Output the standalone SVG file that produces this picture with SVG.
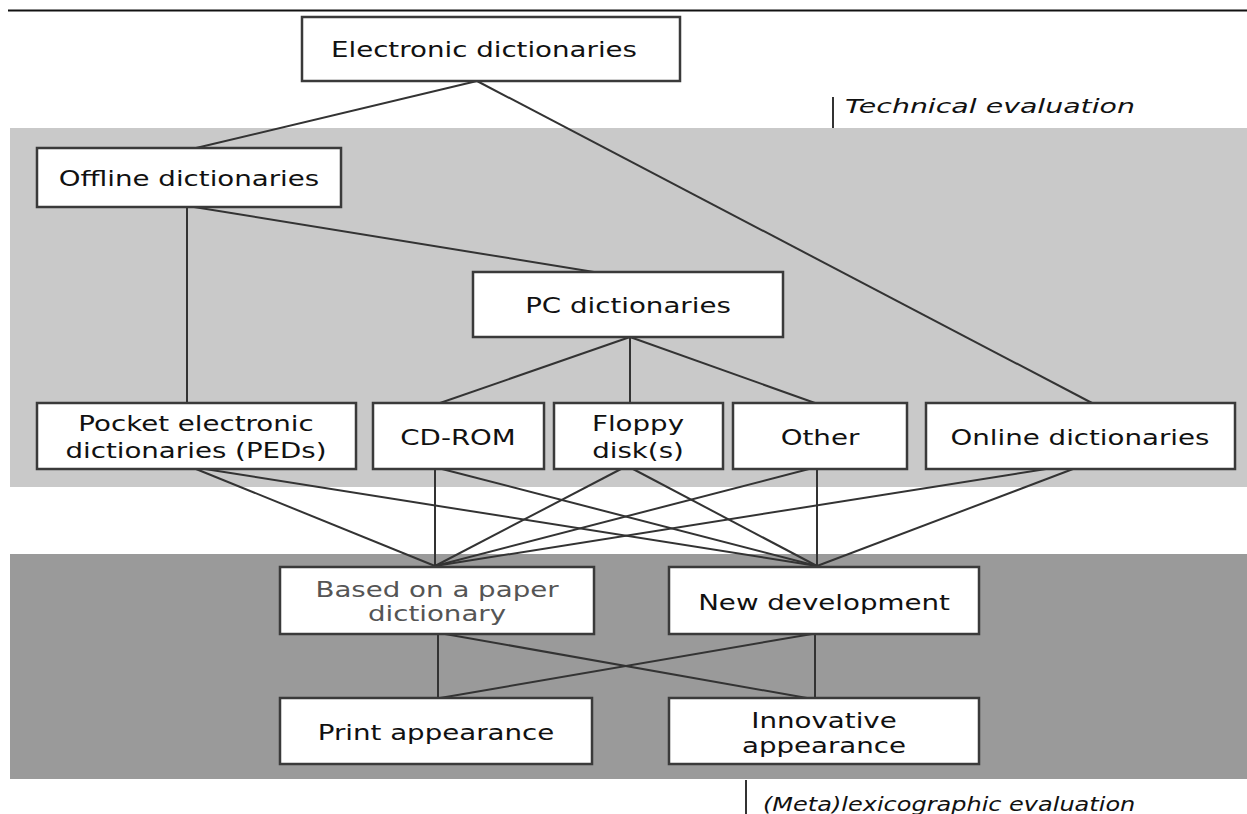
<svg xmlns="http://www.w3.org/2000/svg" width="1247" height="814" viewBox="0 0 1247 814">
<style>
.box{fill:#fff;stroke:#3a3a3a;stroke-width:2.5}
.t{font-family:"DejaVu Sans",Verdana,sans-serif;font-size:20.5px;fill:#111;text-anchor:middle}
.g{fill:#555}
.lab{font-family:"DejaVu Sans",Verdana,sans-serif;font-size:20px;font-style:italic;fill:#111}
#connectors line{stroke:#333;stroke-width:2}
</style>
<rect width="1247" height="814" fill="#fff"/>
<line x1="8" y1="10.5" x2="1247" y2="10.5" stroke="#111" stroke-width="2"/>
<rect x="10" y="128" width="1237" height="359" fill="#c9c9c9"/>
<rect x="10" y="554" width="1237" height="225" fill="#9a9a9a"/>
<line x1="833" y1="97" x2="833" y2="128" stroke="#333" stroke-width="2"/>
<text class="lab" transform="translate(845,113) scale(1.42,1)">Technical evaluation</text>
<line x1="746" y1="780" x2="746" y2="814" stroke="#333" stroke-width="2"/>
<text class="lab" transform="translate(763,811) scale(1.2,1)">(Meta)lexicographic evaluation</text>
<g id="connectors">
<line x1="477" y1="81" x2="196" y2="148"/>
<line x1="477" y1="81" x2="1092" y2="403"/>
<line x1="187" y1="207" x2="187" y2="403"/>
<line x1="194" y1="207" x2="594" y2="272"/>
<line x1="630" y1="337" x2="440" y2="403"/>
<line x1="630" y1="337" x2="630" y2="403"/>
<line x1="630" y1="337" x2="815" y2="403"/>
<line x1="196" y1="469" x2="435" y2="566"/>
<line x1="205" y1="469" x2="817" y2="566"/>
<line x1="435" y1="469" x2="435" y2="566"/>
<line x1="442" y1="469" x2="817" y2="566"/>
<line x1="621" y1="469" x2="435" y2="566"/>
<line x1="633" y1="469" x2="817" y2="566"/>
<line x1="809" y1="469" x2="435" y2="566"/>
<line x1="817" y1="469" x2="817" y2="566"/>
<line x1="1046" y1="469" x2="435" y2="566"/>
<line x1="1073" y1="469" x2="817" y2="566"/>
<line x1="438" y1="634" x2="438" y2="698"/>
<line x1="445" y1="634" x2="807" y2="698"/>
<line x1="812" y1="634" x2="440" y2="698"/>
<line x1="815" y1="634" x2="815" y2="698"/>
</g>
<g id="electronic"><rect class="box" x="302" y="17" width="378" height="64"/><text class="t" transform="translate(484,57) scale(1.35,1)">Electronic dictionaries</text></g>
<g id="offline"><rect class="box" x="37" y="148" width="304" height="59"/><text class="t" transform="translate(189,186) scale(1.35,1)">Offline dictionaries</text></g>
<g id="pc"><rect class="box" x="473" y="272" width="310" height="65"/><text class="t" transform="translate(628,313) scale(1.35,1)">PC dictionaries</text></g>
<g id="ped"><rect class="box" x="37" y="403" width="319" height="66"/><text class="t" transform="translate(196,431) scale(1.35,1)">Pocket electronic</text><text class="t" transform="translate(196,458) scale(1.35,1)">dictionaries (PEDs)</text></g>
<g id="cdrom"><rect class="box" x="373" y="403" width="171" height="66"/><text class="t" transform="translate(458,445) scale(1.35,1)">CD-ROM</text></g>
<g id="floppy"><rect class="box" x="554" y="403" width="169" height="66"/><text class="t" transform="translate(638,431) scale(1.35,1)">Floppy</text><text class="t" transform="translate(638,458) scale(1.35,1)">disk(s)</text></g>
<g id="other"><rect class="box" x="733" y="403" width="174" height="66"/><text class="t" transform="translate(820,445) scale(1.35,1)">Other</text></g>
<g id="online"><rect class="box" x="926" y="403" width="309" height="66"/><text class="t" transform="translate(1080,445) scale(1.35,1)">Online dictionaries</text></g>
<g id="based"><rect class="box" x="280" y="567" width="314" height="67"/><text class="t g" transform="translate(437,597) scale(1.35,1)">Based on a paper</text><text class="t g" transform="translate(437,621) scale(1.35,1)">dictionary</text></g>
<g id="newdev"><rect class="box" x="669" y="567" width="310" height="67"/><text class="t" transform="translate(824,610) scale(1.35,1)">New development</text></g>
<g id="print"><rect class="box" x="280" y="698" width="312" height="66"/><text class="t" transform="translate(436,740) scale(1.35,1)">Print appearance</text></g>
<g id="innovative"><rect class="box" x="669" y="698" width="310" height="66"/><text class="t" transform="translate(824,728) scale(1.35,1)">Innovative</text><text class="t" transform="translate(824,753) scale(1.35,1)">appearance</text></g>
</svg>
